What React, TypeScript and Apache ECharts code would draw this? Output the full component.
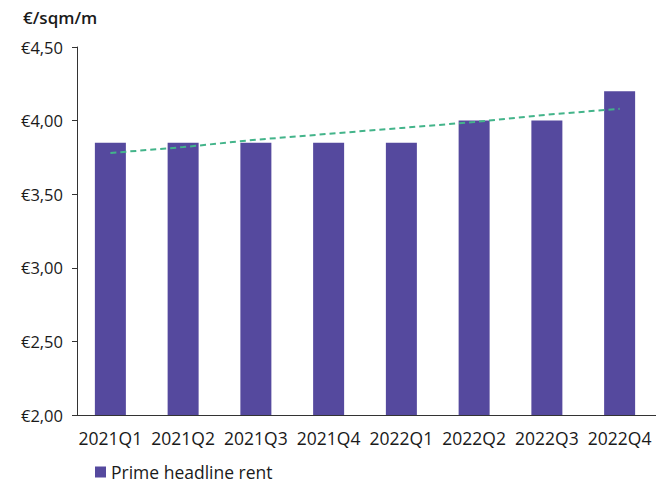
import React, { useEffect, useRef } from "react";
import * as echarts from "echarts";

const categories = ["2021Q1", "2021Q2", "2021Q3", "2021Q4", "2022Q1", "2022Q2", "2022Q3", "2022Q4"];
const rentValues = [3.85, 3.85, 3.85, 3.85, 3.85, 4.0, 4.0, 4.2];
const trendValues = [3.78, 3.82, 3.87, 3.91, 3.95, 3.99, 4.04, 4.08];
const yTicks = [2.0, 2.5, 3.0, 3.5, 4.0, 4.5];
const unitLabel = "€/sqm/m";
const seriesName = "Prime headline rent";

const FONT = "'Open Sans', 'Noto Sans', sans-serif";

export default function App() {
  const ref = useRef<HTMLDivElement>(null);
  useEffect(() => {
    if (!ref.current) return;
    const chart = echarts.init(ref.current, undefined, { renderer: "svg" });
    chart.setOption({
      animation: false,
      backgroundColor: "#ffffff",
      title: {
        text: unitLabel,
        left: 18,
        top: 4,
        textStyle: { fontFamily: FONT, fontSize: 17, fontWeight: 600, color: "#1a1a1a" },
      },
      legend: {
        data: [{ name: seriesName, icon: "rect" }],
        left: 95,
        top: 463,
        padding: 0,
        itemWidth: 11,
        itemHeight: 11,
        itemGap: 5,
        textStyle: { fontFamily: FONT, fontSize: 17.5, color: "#1a1a1a", padding: [0, 0, 0, 0] },
      },
      grid: { left: 74, right: -1, top: 47, bottom: 71 },
      xAxis: {
        type: "category",
        data: categories,
        axisLine: { lineStyle: { color: "#333", width: 1 } },
        axisTick: { show: false },
        axisLabel: { fontFamily: FONT, fontSize: 17.5, color: "#1a1a1a", margin: 14, interval: 0 },
      },
      yAxis: {
        type: "value",
        min: yTicks[0],
        max: yTicks[yTicks.length - 1],
        interval: 0.5,
        offset: -3,
        axisLine: { show: true, lineStyle: { color: "#333", width: 1 } },
        axisTick: { show: true, length: 5, lineStyle: { color: "#333" } },
        splitLine: { show: false },
        axisLabel: {
          fontFamily: FONT,
          fontSize: 16.5,
          color: "#1a1a1a",
          margin: 14,
          formatter: (v: number) => "€" + v.toFixed(2).replace(".", ","),
        },
      },
      series: [
        {
          name: seriesName,
          type: "bar",
          data: rentValues,
          barWidth: 31,
          itemStyle: { color: "#55499e" },
        },
        {
          name: "trend",
          type: "line",
          data: trendValues,
          symbol: "none",
          lineStyle: { color: "#43b48a", width: 2, type: [6, 4] },
          z: 5,
        },
      ],
    });
    return () => chart.dispose();
  }, []);
  return (
    <div
      ref={ref}
      style={{ position: "fixed", left: 0, top: 0, width: 656, height: 486 }}
    />
  );
}
